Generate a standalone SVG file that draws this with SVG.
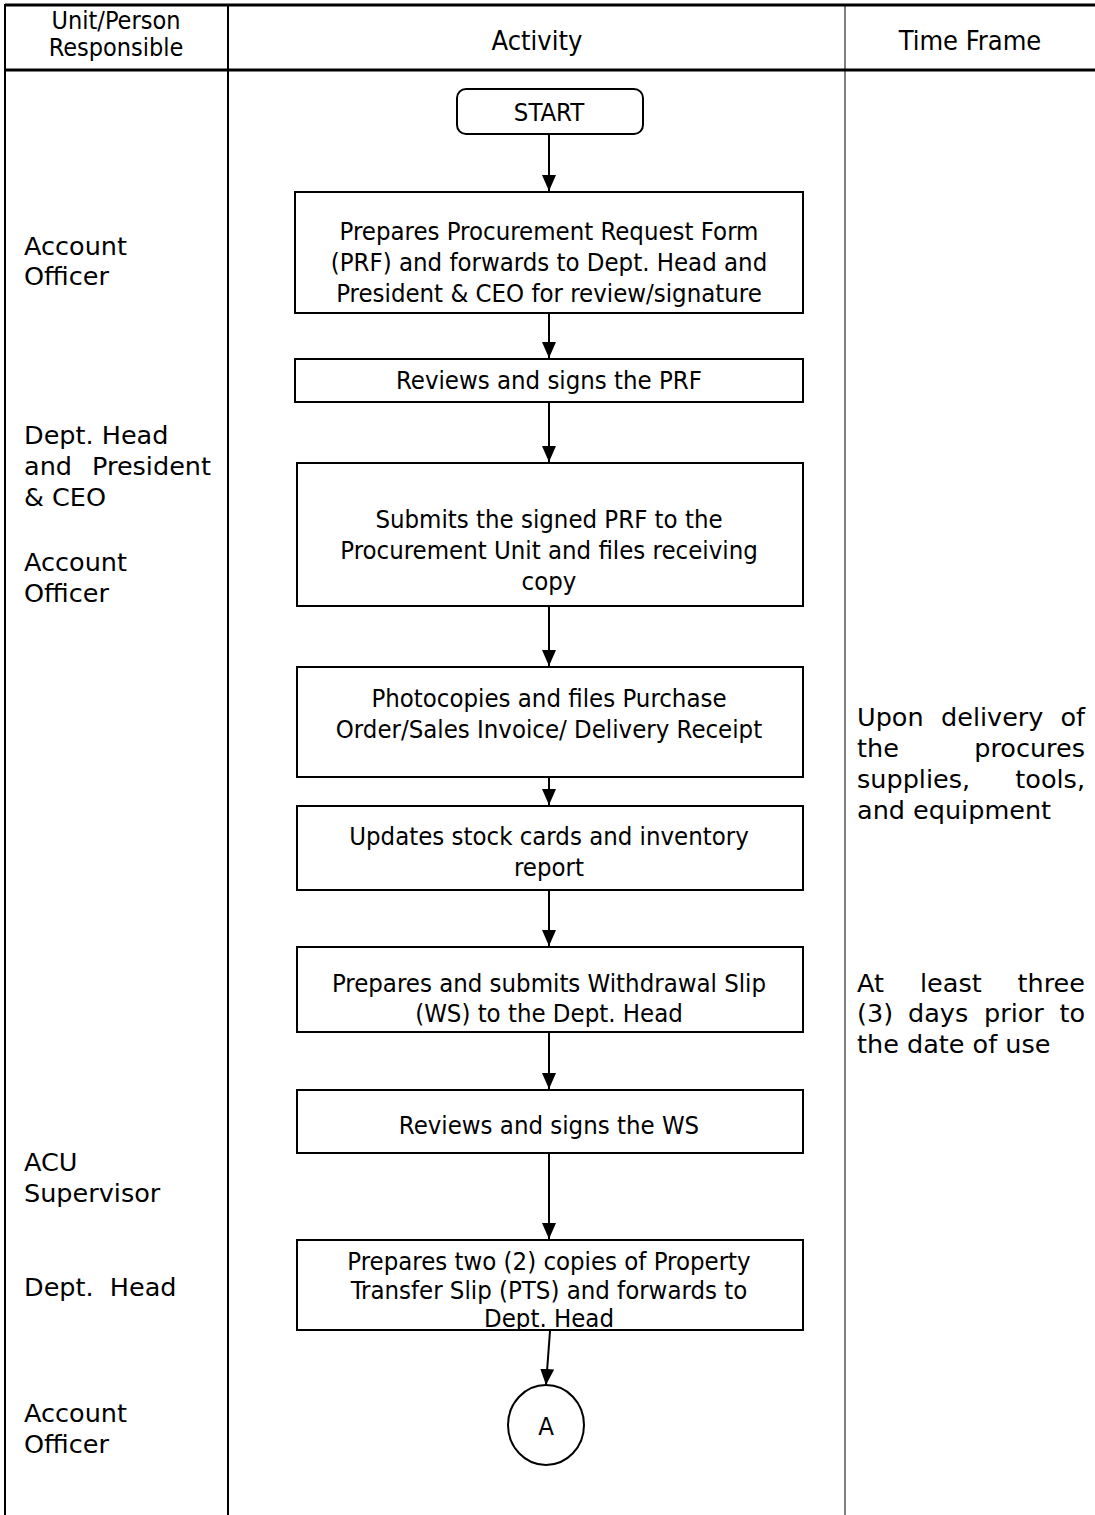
<svg xmlns="http://www.w3.org/2000/svg" width="1095" height="1515" viewBox="0 0 1095 1515">
<style>
.col{font-family:'DejaVu Sans','Liberation Sans',sans-serif;font-size:25.5px;fill:#000}
.end{text-anchor:end}
.box{font-family:'DejaVu Sans Condensed','DejaVu Sans',sans-serif;font-stretch:condensed;font-size:25.5px;fill:#000;text-anchor:middle;dominant-baseline:central}
.hd{font-family:'DejaVu Sans Condensed','DejaVu Sans',sans-serif;font-stretch:condensed;font-size:27px;fill:#000;text-anchor:middle;dominant-baseline:central}
.hd2{font-size:25px}
.shape{fill:#fff;stroke:#000;stroke-width:2}
.conn{stroke:#000;stroke-width:2;fill:none}
</style>
<defs>
<marker id="arr" viewBox="0 0 16 14" refX="16" refY="7" markerWidth="16" markerHeight="14" markerUnits="userSpaceOnUse" orient="auto">
<path d="M0,0 L16,7 L0,14 z" fill="#000"/>
</marker>
<clipPath id="clip8"><rect x="297" y="1240" width="506" height="89"/></clipPath>
</defs>
<rect width="1095" height="1515" fill="#fff"/>
<g id="table">
<line x1="5" y1="5" x2="1095" y2="5" stroke="#000" stroke-width="3"/>
<line x1="5" y1="70" x2="1095" y2="70" stroke="#000" stroke-width="3"/>
<line x1="5" y1="4" x2="5" y2="1515" stroke="#000" stroke-width="2"/>
<line x1="228" y1="4" x2="228" y2="1515" stroke="#000" stroke-width="2"/>
<line x1="845" y1="4" x2="845" y2="1515" stroke="#000" stroke-width="1"/>
<text class="hd hd2" x="116" y="20">Unit/Person</text>
<text class="hd hd2" x="116" y="47">Responsible</text>
<text class="hd" x="537" y="40">Activity</text>
<text class="hd" x="970" y="40">Time Frame</text>
</g>
<g id="left-labels" class="col">
<text x="24" y="255">Account</text>
<text x="24" y="285">Officer</text>
<text x="24" y="444">Dept. Head</text>
<text x="24" y="475">and</text>
<text x="211" y="475" class="end">President</text>
<text x="24" y="506">&amp; CEO</text>
<text x="24" y="571">Account</text>
<text x="24" y="602">Officer</text>
<text x="24" y="1171">ACU</text>
<text x="24" y="1202">Supervisor</text>
<text x="24" y="1296" xml:space="preserve">Dept.  Head</text>
<text x="24" y="1422">Account</text>
<text x="24" y="1453">Officer</text>
</g>
<g id="right-labels" class="col">
<text x="857" y="726">Upon</text>
<text x="941" y="726">delivery</text>
<text x="1085" y="726" class="end">of</text>
<text x="857" y="757">the</text>
<text x="1085" y="757" class="end">procures</text>
<text x="857" y="788">supplies,</text>
<text x="1085" y="788" class="end">tools,</text>
<text x="857" y="819">and equipment</text>
<text x="857" y="992">At</text>
<text x="920" y="992">least</text>
<text x="1085" y="992" class="end">three</text>
<text x="857" y="1022">(3)</text>
<text x="908" y="1022">days</text>
<text x="984" y="1022">prior</text>
<text x="1085" y="1022" class="end">to</text>
<text x="857" y="1053">the date of use</text>
</g>
<g id="connectors">
<line class="conn" x1="549" y1="134" x2="549" y2="191" marker-end="url(#arr)"/>
<line class="conn" x1="549" y1="314" x2="549" y2="358" marker-end="url(#arr)"/>
<line class="conn" x1="549" y1="403" x2="549" y2="462" marker-end="url(#arr)"/>
<line class="conn" x1="549" y1="607" x2="549" y2="666" marker-end="url(#arr)"/>
<line class="conn" x1="549" y1="778" x2="549" y2="805" marker-end="url(#arr)"/>
<line class="conn" x1="549" y1="891" x2="549" y2="946" marker-end="url(#arr)"/>
<line class="conn" x1="549" y1="1033" x2="549" y2="1089" marker-end="url(#arr)"/>
<line class="conn" x1="549" y1="1154" x2="549" y2="1239" marker-end="url(#arr)"/>
<line class="conn" x1="550" y1="1331" x2="546" y2="1385" marker-end="url(#arr)"/>
</g>
<g id="start">
<rect class="shape" x="457" y="89" width="186" height="45" rx="9"/>
<text class="box" x="549" y="112">START</text>
</g>
<g id="n1">
<rect class="shape" x="295" y="192" width="508" height="121"/>
<text class="box" x="549" y="231">Prepares Procurement Request Form</text>
<text class="box" x="549" y="262">(PRF) and forwards to Dept. Head and</text>
<text class="box" x="549" y="293">President &amp; CEO for review/signature</text>
</g>
<g id="n2">
<rect class="shape" x="295" y="359" width="508" height="43"/>
<text class="box" x="549" y="380">Reviews and signs the PRF</text>
</g>
<g id="n3">
<rect class="shape" x="297" y="463" width="506" height="143"/>
<text class="box" x="549" y="519">Submits the signed PRF to the</text>
<text class="box" x="549" y="550">Procurement Unit and files receiving</text>
<text class="box" x="549" y="581">copy</text>
</g>
<g id="n4">
<rect class="shape" x="297" y="667" width="506" height="110"/>
<text class="box" x="549" y="698">Photocopies and files Purchase</text>
<text class="box" x="549" y="729">Order/Sales Invoice/ Delivery Receipt</text>
</g>
<g id="n5">
<rect class="shape" x="297" y="806" width="506" height="84"/>
<text class="box" x="549" y="836">Updates stock cards and inventory</text>
<text class="box" x="549" y="867">report</text>
</g>
<g id="n6">
<rect class="shape" x="297" y="947" width="506" height="85"/>
<text class="box" x="549" y="983">Prepares and submits Withdrawal Slip</text>
<text class="box" x="549" y="1013">(WS) to the Dept. Head</text>
</g>
<g id="n7">
<rect class="shape" x="297" y="1090" width="506" height="63"/>
<text class="box" x="549" y="1125">Reviews and signs the WS</text>
</g>
<g id="n8">
<rect class="shape" x="297" y="1240" width="506" height="90"/>
<g clip-path="url(#clip8)">
<text class="box" x="549" y="1261">Prepares two (2) copies of Property</text>
<text class="box" x="549" y="1290">Transfer Slip (PTS) and forwards to</text>
<text class="box" x="549" y="1318">Dept. Head</text>
</g>
</g>
<g id="connectorA">
<ellipse class="shape" cx="546" cy="1425" rx="38" ry="40"/>
<text class="box" x="546" y="1426">A</text>
</g>
</svg>
